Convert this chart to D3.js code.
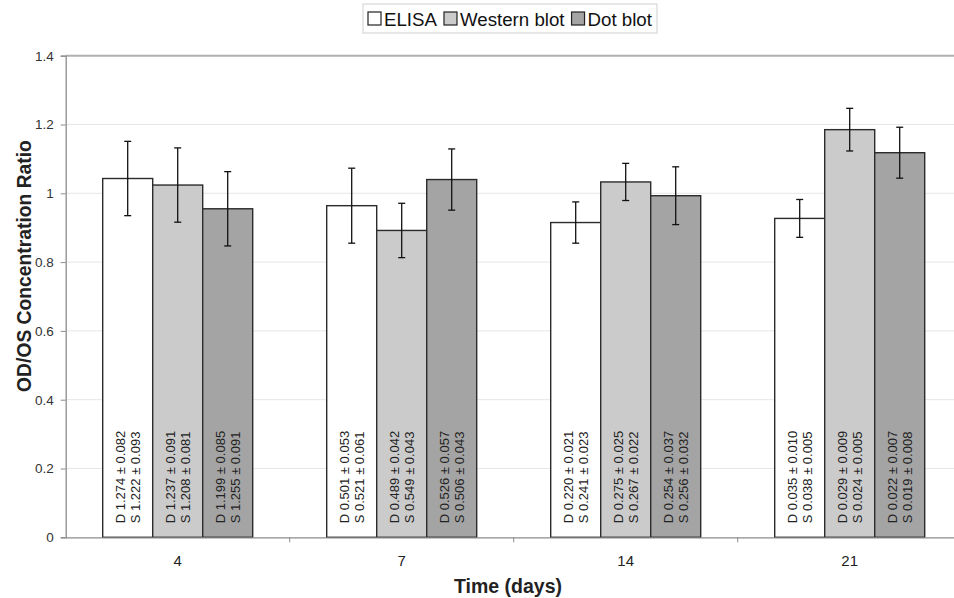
<!DOCTYPE html>
<html>
<head>
<meta charset="utf-8">
<script src="https://cdn.jsdelivr.net/npm/d3@7"></script>
<style>
  body { margin: 0; background: #fff; }
  svg { font-family: Arial, "Liberation Sans", sans-serif; }
</style>
</head>
<body>
<svg></svg>
<script>
let days = ['4', '7', '14', '21']
let series = ['ELISA', 'Western blot', 'Dot blot']
let colors = ['#ffffff', '#cbcbcb', '#a4a4a4']

// mean ratio per series, one value per day
let elisa = [1.043, 0.964, 0.915, 0.927]
let western = [1.024, 0.892, 1.033, 1.185]
let dot = [0.955, 1.040, 0.993, 1.118]

// error bar half-widths
let elisaErr = [0.108, 0.109, 0.060, 0.055]
let westernErr = [0.108, 0.079, 0.054, 0.062]
let dotErr = [0.108, 0.089, 0.084, 0.074]

// text written inside the bars
let elisaD = ['D 1.274 ± 0.082', 'D 0.501 ± 0.053', 'D 0.220 ± 0.021', 'D 0.035 ± 0.010']
let elisaS = ['S 1.222 ± 0.093', 'S 0.521 ± 0.061', 'S 0.241 ± 0.023', 'S 0.038 ± 0.005']
let westernD = ['D 1.237 ± 0.091', 'D 0.489 ± 0.042', 'D 0.275 ± 0.025', 'D 0.029 ± 0.009']
let westernS = ['S 1.208 ± 0.081', 'S 0.549 ± 0.043', 'S 0.267 ± 0.022', 'S 0.024 ± 0.005']
let dotD = ['D 1.199 ± 0.085', 'D 0.526 ± 0.057', 'D 0.254 ± 0.037', 'D 0.022 ± 0.007']
let dotS = ['S 1.255 ± 0.091', 'S 0.506 ± 0.043', 'S 0.256 ± 0.032', 'S 0.019 ± 0.008']

let yTicks = [0, 0.2, 0.4, 0.6, 0.8, 1, 1.2, 1.4]

let w = 954
let h = 598
let padLeft = 65.7
let padRight = 961.7
let plotTop = 55.7
let plotBottom = 537.3

let svg = d3.select('svg').attr('width', w).attr('height', h)

let rows = []
let means = [elisa, western, dot]
let errs = [elisaErr, westernErr, dotErr]
let dLabels = [elisaD, westernD, dotD]
let sLabels = [elisaS, westernS, dotS]
series.forEach((s, si) => {
    days.forEach((d, di) => {
        rows.push({day: d, series: s, si: si, v: means[si][di], e: errs[si][di],
                   dl: dLabels[si][di], sl: sLabels[si][di]})
    })
})

let x0 = d3.scaleBand().domain(days).range([padLeft, padRight])
let x1 = d3.scaleBand().domain(series).range([37, 187])
let y = d3.scaleLinear().domain([0, 1.4]).range([plotBottom, plotTop])

// gridlines
svg.append('g')
   .selectAll('line')
   .data(yTicks.filter(t => t > 0 && t < 1.4))
   .enter()
   .append('line')
   .attr('x1', padLeft).attr('x2', padRight)
   .attr('y1', d => y(d)).attr('y2', d => y(d))
   .attr('stroke', '#e6e6e6')
   .attr('stroke-width', 1)

// top border
svg.append('line')
   .attr('x1', padLeft).attr('x2', padRight)
   .attr('y1', y(1.4)).attr('y2', y(1.4))
   .attr('stroke', '#b0b0b0').attr('stroke-width', 2)

// y axis
let yAxis = d3.axisLeft(y).tickValues(yTicks).tickSize(5).tickPadding(7)
    .tickFormat(d => d3.format('~g')(d))
let ya = svg.append('g')
    .attr('transform', 'translate(' + padLeft + ',0)')
    .call(yAxis)
ya.select('.domain').attr('stroke', '#8c8c8c').attr('stroke-width', 1.3)
ya.selectAll('.tick line').attr('stroke', '#8c8c8c')
ya.selectAll('text').attr('font-size', 13.5).attr('fill', '#333').attr('font-family', 'Arial, "Liberation Sans", sans-serif')

// bars
let bars = svg.append('g')
bars.selectAll('rect')
    .data(rows)
    .enter()
    .append('rect')
    .attr('x', d => x0(d.day) + x1(d.series))
    .attr('y', d => y(d.v))
    .attr('width', x1.bandwidth())
    .attr('height', d => y(0) - y(d.v))
    .attr('fill', d => colors[d.si])
    .attr('stroke', '#2b2b2b')
    .attr('stroke-width', 1.4)

// text inside bars
let labels = svg.append('g')
labels.selectAll('text')
    .data(rows)
    .enter()
    .append('text')
    .attr('transform', d => {
        let cx = x0(d.day) + x1(d.series) + x1.bandwidth() / 2
        return 'translate(' + cx + ',' + (plotBottom - 14) + ') rotate(-90)'
    })
    .attr('font-size', 13)
    .attr('fill', '#222')
    .each(function(d) {
        let t = d3.select(this)
        t.append('tspan').attr('x', 0).attr('y', -3).text(d.dl)
        t.append('tspan').attr('x', 0).attr('y', 12.5).text(d.sl)
    })

// error bars
let eb = svg.append('g').attr('stroke', '#111').attr('stroke-width', 1.3)
rows.forEach(d => {
    let cx = x0(d.day) + x1(d.series) + x1.bandwidth() / 2
    eb.append('line').attr('x1', cx).attr('x2', cx).attr('y1', y(d.v + d.e)).attr('y2', y(d.v - d.e))
    eb.append('line').attr('x1', cx - 3.5).attr('x2', cx + 3.5).attr('y1', y(d.v + d.e)).attr('y2', y(d.v + d.e))
    eb.append('line').attr('x1', cx - 3.5).attr('x2', cx + 3.5).attr('y1', y(d.v - d.e)).attr('y2', y(d.v - d.e))
})

// x axis
let xAxis = d3.axisBottom(x0).tickSize(0).tickPadding(18)
let xa = svg.append('g')
    .attr('transform', 'translate(0,' + plotBottom + ')')
    .call(xAxis)
xa.select('.domain').attr('stroke', '#8c8c8c').attr('stroke-width', 1.3)
xa.selectAll('text').attr('font-size', 15).attr('fill', '#222').attr('font-family', 'Arial, "Liberation Sans", sans-serif')
// separators between categories
xa.selectAll('.sep')
  .data(days.slice(1))
  .enter()
  .append('line')
  .attr('x1', d => x0(d)).attr('x2', d => x0(d))
  .attr('y1', 0).attr('y2', 5)
  .attr('stroke', '#8c8c8c')

// axis titles
svg.append('text')
   .attr('x', 508).attr('y', 593)
   .attr('text-anchor', 'middle')
   .attr('font-size', 19.5).attr('font-weight', 'bold').attr('fill', '#222')
   .text('Time (days)')

svg.append('text')
   .attr('transform', 'translate(31,266) rotate(-90)')
   .attr('text-anchor', 'middle')
   .attr('font-size', 19.3).attr('font-weight', 'bold').attr('fill', '#222')
   .text('OD/OS Concentration Ratio')

// legend
let legend = svg.append('g')
let box = legend.append('rect')
    .attr('fill', '#fff').attr('stroke', '#cfcfcf')
let lx = 368
series.forEach((s, i) => {
    legend.append('rect')
          .attr('x', lx).attr('y', 12).attr('width', 13).attr('height', 13)
          .attr('fill', colors[i]).attr('stroke', '#222').attr('stroke-width', 1.2)
    let t = legend.append('text')
          .attr('x', lx + 16).attr('y', 25.5)
          .attr('font-size', 18.7).attr('fill', '#111')
          .text(s)
    lx += 16 + t.node().getComputedTextLength() + 7
})
box.attr('x', 363).attr('y', 4).attr('width', lx - 363 - 2).attr('height', 29)
</script>
</body>
</html>
